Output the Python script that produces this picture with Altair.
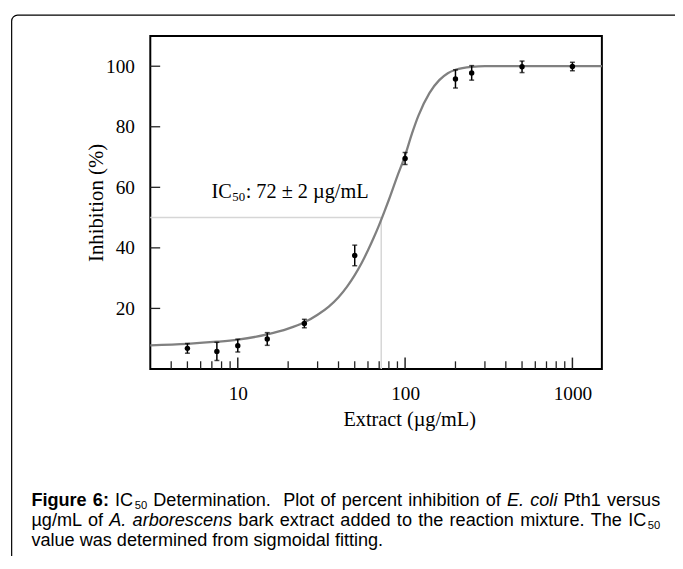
import altair as alt
import pandas as pd

# ---------------- data ----------------
x_conc = [5, 7.5, 10, 15, 25, 50, 100, 200, 250, 500, 1000]
y_inhib = [6.8, 5.8, 7.7, 9.9, 15.0, 37.5, 69.5, 95.8, 97.8, 99.8, 99.9]
y_err = [1.6, 3.0, 2.1, 2.1, 1.4, 3.4, 2.0, 3.0, 2.4, 1.9, 1.4]

fit_x = [3, 5, 7.5, 10, 15, 20, 25, 30, 35, 40, 45, 50, 55, 60, 65, 70, 75, 80,
         90, 100, 110, 120, 140, 160, 180, 200, 250, 300, 500, 1500]
fit_y = [7.8, 8.3, 9.0, 9.7, 11.4, 13.3, 15.4, 17.9, 20.6, 23.7, 27.2, 31.0, 35.0,
         39.2, 43.4, 47.6, 51.8, 55.9, 63.8, 70.5, 77.8, 83.6, 91.2, 95.4, 97.7,
         98.8, 99.8, 100, 100, 100]

ic50 = 72
half_level = 50
x_domain = [3, 1500]
y_domain = [0, 110]
y_tick_values = [20, 40, 60, 80, 100]
x_major_ticks = [10, 100, 1000]
x_minor_ticks = [4, 5, 6, 7, 8, 9, 20, 30, 40, 50, 60, 70, 80, 90,
                 200, 300, 400, 500, 600, 700, 800, 900]

x_title = "Extract (µg/mL)"
y_title = "Inhibition (%)"
annot_main = "IC"
annot_sub = "50"
annot_rest = ": 72 ± 2 µg/mL"

caption_lines = [
    [([("Figure", "b")], 1), ([("6:", "b")], 1), ([("IC", "n"), ("50", "s")], 1),
     ([("Determination.", "n")], 2), ([("Plot", "n")], 1), ([("of", "n")], 1),
     ([("percent", "n")], 1), ([("inhibition", "n")], 1), ([("of", "n")], 1),
     ([("E.", "i")], 1), ([("coli", "i")], 1), ([("Pth1", "n")], 1), ([("versus", "n")], 0)],
    [([("µg/mL", "n")], 1), ([("of", "n")], 1), ([("A.", "i")], 1), ([("arborescens", "i")], 1),
     ([("bark", "n")], 1), ([("extract", "n")], 1), ([("added", "n")], 1), ([("to", "n")], 1),
     ([("the", "n")], 1), ([("reaction", "n")], 1), ([("mixture.", "n")], 1), ([("The", "n")], 1),
     ([("IC", "n"), ("50", "s")], 0)],
    [([(w, "n")], 1) for w in "value was determined from sigmoidal fitting.".split(" ")],
]
caption_justify = [True, True, False]

# ---------------- layout / style ----------------
W, H = 457, 337
SERIF = "Liberation Serif"
SANS = "Liberation Sans"
LABEL_FS = 19.5
TITLE_FS = 20.5

xs = alt.Scale(type="log", domain=x_domain, nice=False)
ys = alt.Scale(domain=y_domain, nice=False, zero=False)

x_axis = alt.Axis(values=x_major_ticks, format="d", title=x_title, ticks=False, tickSize=0,
                  domain=False, grid=False, labelFont=SERIF, labelFontSize=LABEL_FS,
                  labelColor="black", labelPadding=31, labelBaseline="alphabetic",
                  labelFlush=False, labelOverlap=False, titleFont=SERIF,
                  titleFontSize=TITLE_FS, titleFontWeight="normal", titleColor="black",
                  titleX=262, titleY=57, titleBaseline="alphabetic", titleAlign="center")
y_axis = alt.Axis(values=y_tick_values, title=y_title, ticks=False, tickSize=0, domain=False,
                  grid=False, labelFont=SERIF, labelFontSize=LABEL_FS, labelColor="black",
                  labelPadding=16, labelFlush=False, labelOverlap=False, titleFont=SERIF,
                  titleFontSize=TITLE_FS + 0.5, titleFontWeight="normal", titleColor="black",
                  titleX=-48, titleY=H / 2, titleAngle=270, titleBaseline="alphabetic",
                  titleAlign="center")


def X(field):
    return alt.X(field, type="quantitative", scale=xs, axis=x_axis)


def Y(field):
    return alt.Y(field, type="quantitative", scale=ys, axis=y_axis)


def px_to_x(px):
    return x_domain[0] * (x_domain[1] / x_domain[0]) ** (px / W)


def py_to_y(py):
    return y_domain[1] - py / H * (y_domain[1] - y_domain[0])


pts = pd.DataFrame({
    "x": x_conc,
    "y": y_inhib,
    "lo": [v - e for v, e in zip(y_inhib, y_err)],
    "hi": [v + e for v, e in zip(y_inhib, y_err)],
})
fit = pd.DataFrame({"x": fit_x, "y": fit_y})
guide = pd.DataFrame({"x0": [x_domain[0]], "x1": [ic50], "y": [half_level], "y0": [y_domain[0]]})
minor = pd.DataFrame({"t": x_minor_ticks})
major = pd.DataFrame({"t": x_major_ticks})
yt = pd.DataFrame({"t": y_tick_values})
dummy = pd.DataFrame({"k": [0]})

layers = []

# outer rounded frame of the figure panel (only its top-left part is on the page)
layers.append(alt.Chart(dummy).mark_rect(fill="white", fillOpacity=0, stroke="black",
                                          strokeWidth=1.2, cornerRadiusTopLeft=6)
              .encode(x=alt.value(-140.3), y=alt.value(-21), x2=alt.value(1200), y2=alt.value(1200)))

# guide lines at IC50
layers.append(alt.Chart(guide).mark_rule(color="#d6d6d6", strokeWidth=1.5)
              .encode(x=X("x0"), x2="x1", y=Y("y")))
layers.append(alt.Chart(guide).mark_rule(color="#d6d6d6", strokeWidth=1.5)
              .encode(x=X("x1"), y=Y("y0"), y2="y"))

# inward ticks
layers.append(alt.Chart(minor).mark_rule(color="#222222", strokeWidth=1.3)
              .encode(x=X("t"), y=alt.value(H), y2=alt.value(H - 7.7)))
layers.append(alt.Chart(major).mark_rule(color="#222222", strokeWidth=1.5)
              .encode(x=X("t"), y=alt.value(H), y2=alt.value(H - 11.5)))
layers.append(alt.Chart(yt).mark_rule(color="#222222", strokeWidth=1.3)
              .encode(y=Y("t"), x=alt.value(0), x2=alt.value(10)))

# fitted curve
layers.append(alt.Chart(fit).mark_line(interpolate="monotone", color="#808080", strokeWidth=2.3)
              .encode(x=X("x"), y=Y("y")))

# error bars
layers.append(alt.Chart(pts).mark_rule(color="black", strokeWidth=1.5)
              .encode(x=X("x"), y=Y("lo"), y2="hi"))
layers.append(alt.Chart(pts).mark_tick(orient="horizontal", size=5, thickness=1.5, color="black")
              .encode(x=X("x"), y=Y("lo")))
layers.append(alt.Chart(pts).mark_tick(orient="horizontal", size=5, thickness=1.5, color="black")
              .encode(x=X("x"), y=Y("hi")))
# points
layers.append(alt.Chart(pts).mark_circle(size=30, color="black", opacity=1)
              .encode(x=X("x"), y=Y("y")))


def text_layer(txt, x, y, size, font, weight="normal", style="normal", align="left"):
    return (alt.Chart(dummy)
            .mark_text(text=txt, font=font, fontSize=size, fontWeight=weight, fontStyle=style,
                       align=align, baseline="alphabetic", color="black")
            .encode(x=alt.value(x), y=alt.value(y)))


# IC50 annotation
ANN_FS = 20.5
ANN_SUB = 13
ax0, ay0 = 62, 164
layers.append(text_layer(annot_main, ax0, ay0, ANN_FS, SERIF))
layers.append(text_layer(annot_sub, ax0 + ANN_FS * 1.0 + 0.5, ay0 + 3.5, ANN_SUB, SERIF))
layers.append(text_layer(annot_rest, ax0 + ANN_FS * 1.0 + ANN_SUB + 1, ay0, ANN_FS, SERIF))

# caption, laid out word by word with Arial metrics and justified like the reference
REG = {' ': 278, '.': 278, ':': 278, '/': 278, '0': 556, '1': 556, '2': 556, '5': 556, '6': 556,
       'A': 667, 'C': 722, 'D': 722, 'E': 667, 'F': 611, 'I': 278, 'L': 556, 'P': 667, 'T': 611,
       'a': 556, 'b': 556, 'c': 500, 'd': 556, 'e': 556, 'f': 278, 'g': 556, 'h': 556, 'i': 222,
       'k': 500, 'l': 222, 'm': 833, 'n': 556, 'o': 556, 'p': 556, 'r': 333, 's': 500, 't': 278,
       'u': 556, 'v': 500, 'w': 722, 'x': 500, 'y': 500, 'µ': 556}
BOLD = {'F': 611, 'i': 278, 'g': 611, 'u': 611, 'r': 389, 'e': 556, ' ': 278, '6': 556, ':': 333}
CAP_FS = 18.3
SUB_SCALE = 0.62
SUB_GAP = 1.5
SUB_DROP = 2.5


def piece_adv(t, st):
    table = BOLD if st == "b" else REG
    fs = CAP_FS * SUB_SCALE if st == "s" else CAP_FS
    return sum(table.get(c, 556) for c in t) / 1000.0 * fs


cap_x0 = 31.7 - 152
cap_right = 668 - 152
cap_base = [509 - 33, 529 - 33, 549 - 33]
space_w = 0.278 * CAP_FS
rows = {"n": [], "b": [], "i": [], "s": []}
for line, just, by in zip(caption_lines, caption_justify, cap_base):
    natural = sum(sum(piece_adv(t, s) + (SUB_GAP if s == "s" else 0) for t, s in word)
                  + g * space_w for word, g in line)
    n_sp = sum(g for _, g in line)
    extra = (cap_right - cap_x0 - natural) / n_sp if just else 0
    cx = cap_x0
    for word, g in line:
        for t, s in word:
            yy = by + SUB_DROP if s == "s" else by
            if s == "s":
                cx += SUB_GAP
            rows[s].append({"w": t, "cx": px_to_x(cx), "cy": py_to_y(yy)})
            cx += piece_adv(t, s)
        cx += g * (space_w + extra)

styles = {
    "n": dict(fontSize=CAP_FS, fontWeight="normal", fontStyle="normal"),
    "b": dict(fontSize=CAP_FS, fontWeight="bold", fontStyle="normal"),
    "i": dict(fontSize=CAP_FS, fontWeight="normal", fontStyle="italic"),
    "s": dict(fontSize=CAP_FS * SUB_SCALE, fontWeight="normal", fontStyle="normal"),
}
for key, st in styles.items():
    df = pd.DataFrame(rows[key])
    layers.append(alt.Chart(df).mark_text(font=SANS, align="left", baseline="alphabetic",
                                          color="black", **st)
                  .encode(x=X("cx"), y=Y("cy"), text="w:N"))

chart = (alt.layer(*layers)
         .properties(width=W, height=H,
                     autosize=alt.AutoSizeParams(type="none"),
                     padding={"left": 144, "top": 25, "right": 74, "bottom": 186},
                     background="white")
         .configure_view(stroke="black", strokeWidth=2))

chart.save("out.html", embed_options={"renderer": "svg", "actions": False})
